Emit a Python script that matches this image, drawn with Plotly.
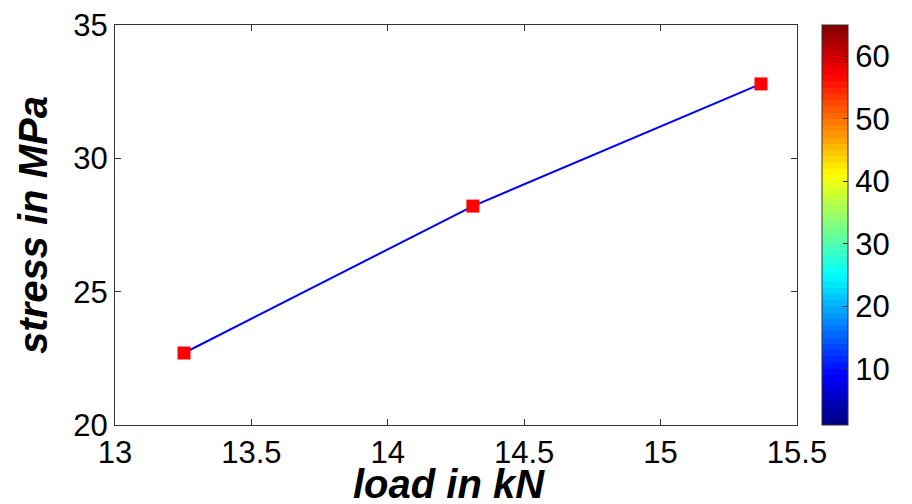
import plotly.graph_objects as go
import numpy as np

# Data
load_kN = [13.253, 14.312, 15.368]
stress_MPa = [22.7, 28.21, 32.79]
x_ticks = [13, 13.5, 14, 14.5, 15, 15.5]
y_ticks = [20, 25, 30, 35]
cbar_ticks = [10, 20, 30, 40, 50, 60]
cbar_range = [1, 65]

# MATLAB-like 64 step jet colormap (styling)
def jet(t):
    r = np.clip(1.5 - abs(4 * t - 3), 0, 1)
    g = np.clip(1.5 - abs(4 * t - 2), 0, 1)
    b = np.clip(1.5 - abs(4 * t - 1), 0, 1)
    return "rgb(%d,%d,%d)" % (round(r * 255), round(g * 255), round(b * 255))

n = 64
cscale = []
for i in range(n):
    c = jet((i + 0.5) / n)
    cscale.append([i / n, c])
    cscale.append([(i + 1) / n, c])

FONT = "Liberation Sans, Arial, sans-serif"
TICK_SIZE = 31

fig = go.Figure()
fig.add_trace(go.Scatter(
    x=load_kN, y=stress_MPa, mode="lines+markers",
    line=dict(color="rgb(0,0,255)", width=2),
    marker=dict(symbol="square", size=13, color="rgb(255,0,0)"),
    showlegend=False, hoverinfo="skip",
))
fig.add_trace(go.Scatter(
    x=[None], y=[None], mode="markers",
    marker=dict(color=[cbar_range[0]], cmin=cbar_range[0], cmax=cbar_range[1],
                colorscale=cscale, showscale=True,
                colorbar=dict(
                    x=(822 - 115) / 682, xanchor="left", xref="paper",
                    y=0, yanchor="bottom", len=1, lenmode="fraction",
                    thickness=26, thicknessmode="pixels",
                    outlinecolor="#333", outlinewidth=1,
                    tickvals=cbar_ticks, ticks="inside", ticklen=5,
                    tickcolor="#333", tickwidth=1,
                    tickfont=dict(family=FONT, size=TICK_SIZE, color="black"),
                    xpad=0, ypad=0,
                )),
    showlegend=False, hoverinfo="skip",
))

axis_common = dict(
    showline=True, linecolor="#333", linewidth=1, mirror="ticks",
    ticks="inside", ticklen=6, tickcolor="#333", tickwidth=1,
    showgrid=False, zeroline=False, ticklabeloverflow="allow",
    tickfont=dict(family=FONT, size=TICK_SIZE, color="black"),
)
fig.update_xaxes(range=[13, 15.5], tickvals=x_ticks,
                 ticktext=[("%g" % v) for v in x_ticks], **axis_common)
fig.update_yaxes(range=[20, 35], tickvals=y_ticks, **axis_common)

fig.add_annotation(text="<b><i>load in kN</i></b>", xref="paper", yref="paper",
                   x=0.49, y=0, yanchor="middle", yshift=-59, showarrow=False,
                   font=dict(family=FONT, size=40, color="black"))
fig.add_annotation(text="<b><i>stress in MPa</i></b>", xref="paper", yref="paper",
                   x=0, y=0.5, xanchor="center", xshift=-82, textangle=-90,
                   showarrow=False,
                   font=dict(family=FONT, size=40, color="black"))

# page body has an 8px margin, so the figure is offset by 8px
fig.update_layout(
    width=904, height=496,
    margin=dict(l=107, r=115, t=17, b=79, autoexpand=False),
    paper_bgcolor="white", plot_bgcolor="white",
)
fig.write_html("out.html")
